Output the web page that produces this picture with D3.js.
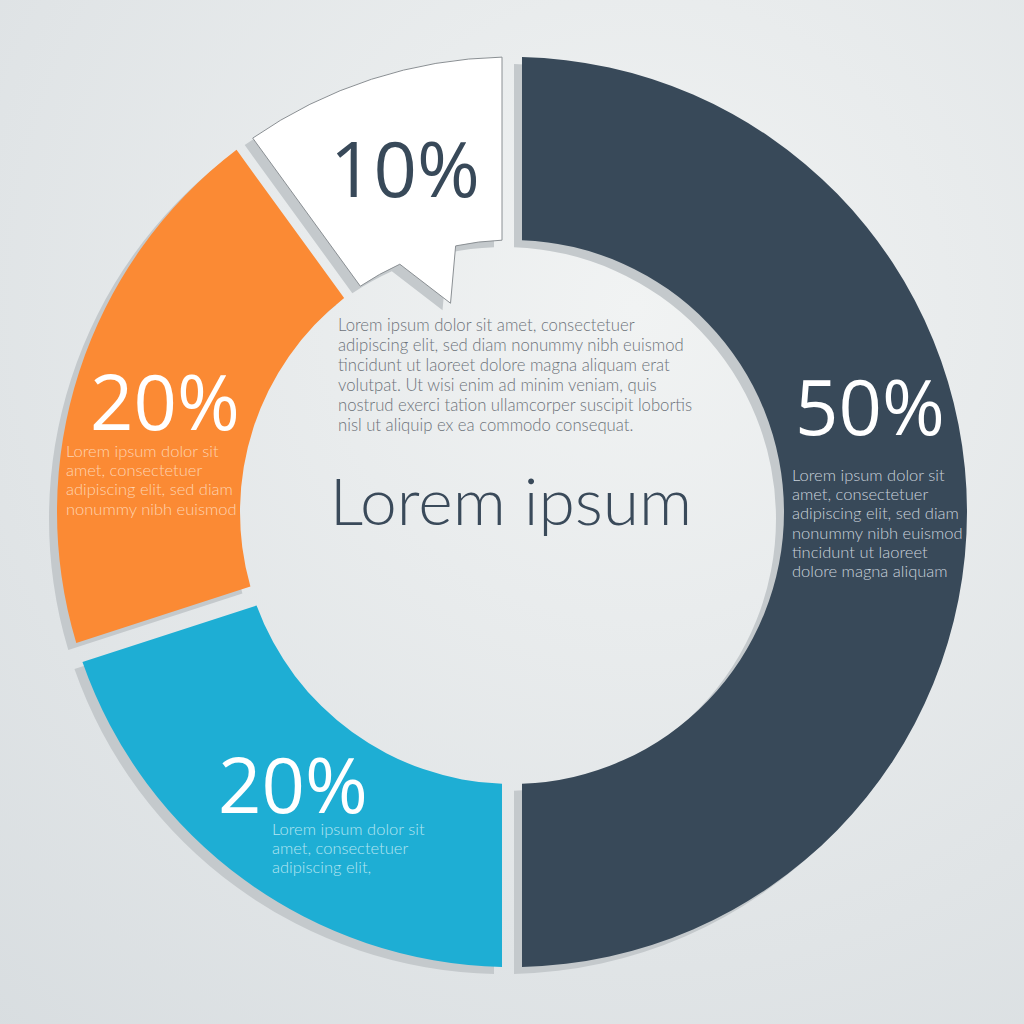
<!DOCTYPE html>
<html>
<head>
<meta charset="utf-8">
<script src="https://cdn.jsdelivr.net/npm/d3@7"></script>
<style>
  html, body { margin: 0; padding: 0; background: #e4e8e9; }
  svg { display: block; }
</style>
</head>
<body>
<script>
// ---- data ----
const categories = ["dark", "blue", "orange", "white"];
const values = [50, 20, 20, 10];
const percentLabels = ["50%", "20%", "20%", "10%"];
const colors = ["#384959", "#1eaed4", "#fb8a34", "#ffffff"];
const labelColors = ["#ffffff", "#ffffff", "#ffffff", "#384959"];
const bodyColors = ["#c9d2db", "#b4e5f2", "#fed3b0", "#6a7078"];
const bodyTexts = [
  ["Lorem ipsum dolor sit", "amet, consectetuer", "adipiscing elit, sed diam", "nonummy nibh euismod", "tincidunt ut laoreet", "dolore magna aliquam"],
  ["Lorem ipsum dolor sit", "amet, consectetuer", "adipiscing elit,"],
  ["Lorem ipsum dolor sit", "amet, consectetuer", "adipiscing elit, sed diam", "nonummy nibh euismod"],
  []
];
const centerParagraph = [
  "Lorem ipsum dolor sit amet, consectetuer",
  "adipiscing elit, sed diam nonummy nibh euismod",
  "tincidunt ut laoreet dolore magna aliquam erat",
  "volutpat. Ut wisi enim ad minim veniam, quis",
  "nostrud exerci tation ullamcorper suscipit lobortis",
  "nisl ut aliquip ex ea commodo consequat."
];
const centerTitle = "Lorem ipsum";

// ---- layout ----
const W = 1024, H = 1024;
const cx = 512, cy = 512;
const rOuter = 455, rInner = 272;
const gap = 20;

const svg = d3.select("body").append("svg").attr("width", W).attr("height", H);
const defs = svg.append("defs");
const bg = defs.append("radialGradient").attr("id", "bg")
  .attr("cx", "0.62").attr("cy", "0.3").attr("r", "0.95");
bg.append("stop").attr("offset", "0").attr("stop-color", "#f1f3f3");
bg.append("stop").attr("offset", "1").attr("stop-color", "#d8dde0");
svg.append("rect").attr("width", W).attr("height", H).attr("fill", "url(#bg)");

const g = svg.append("g").attr("transform", `translate(${cx},${cy})`);

const pie = d3.pie().sort(null).value(d => d).startAngle(0).endAngle(2 * Math.PI);
const arcs = pie(values);
const padAngle = gap / rOuter;
const arc = d3.arc().innerRadius(rInner).outerRadius(rOuter)
  .padAngle(padAngle).padRadius(rOuter);

// speech-bubble shape for the small slice
function bubblePath(a) {
  const half = gap / 2;
  const p = d3.path();
  const ang = t => t - Math.PI / 2; // d3 angle -> canvas angle
  const po = Math.asin(half / rOuter), pi = Math.asin(half / rInner);
  const a0o = a.startAngle + po, a1o = a.endAngle - po;
  const a0i = a.startAngle + pi, a1i = a.endAngle - pi;
  const span = a1i - a0i;
  const n0 = a0i + span * 0.30, nt = a0i + span * 0.55, n1 = a0i + span * 0.69;
  const rt = rInner * 0.80;
  const pt = (r, t) => [r * Math.cos(ang(t)), r * Math.sin(ang(t))];
  let q = pt(rOuter, a0o); p.moveTo(q[0], q[1]);
  p.arc(0, 0, rOuter, ang(a0o), ang(a1o), false);
  q = pt(rInner, a1i); p.lineTo(q[0], q[1]);
  p.arc(0, 0, rInner, ang(a1i), ang(n1), true);
  q = pt(rt, nt); p.lineTo(q[0], q[1]);
  q = pt(rInner, n0); p.lineTo(q[0], q[1]);
  p.arc(0, 0, rInner, ang(n0), ang(a0i), true);
  p.closePath();
  return p.toString();
}
const shapeOf = (d, i) => (i === 3 ? bubblePath(d) : arc(d));

// shadows
g.selectAll("path.shadow").data(arcs).join("path")
  .attr("class", "shadow")
  .attr("transform", "translate(-8,7)")
  .attr("d", shapeOf)
  .attr("fill", "#c4c9cc");

// slices
g.selectAll("path.slice").data(arcs).join("path")
  .attr("class", "slice")
  .attr("d", shapeOf)
  .attr("fill", (d, i) => colors[i])
  .attr("stroke", (d, i) => (i === 3 ? "#8a8f93" : "none"))
  .attr("stroke-width", 1);

// label anchors (relative to center)
const labelPos = [[283, -77], [-294, 301], [-422, -82], [-182, -315]];
const bodyPos = [[280, -31], [-240, 323], [-446, -55], [0, 0]];

g.selectAll("text.pct").data(arcs).join("text")
  .attr("class", "pct")
  .attr("x", (d, i) => labelPos[i][0])
  .attr("y", (d, i) => labelPos[i][1])
  .attr("font-family", "'Open Sans', sans-serif")
  .attr("font-size", 76)
  .attr("fill", (d, i) => labelColors[i])
  .text((d, i) => percentLabels[i]);

arcs.forEach((d, i) => {
  const t = g.append("text")
    .attr("x", bodyPos[i][0]).attr("y", bodyPos[i][1])
    .attr("font-family", "Lato, sans-serif")
    .attr("font-weight", 300)
    .attr("font-size", 16.5)
    .attr("fill", bodyColors[i]);
  bodyTexts[i].forEach((line, k) => {
    t.append("tspan").attr("x", bodyPos[i][0]).attr("dy", k === 0 ? 0 : 19.2).text(line);
  });
});

// center paragraph
const cp = g.append("text")
  .attr("x", -174).attr("y", -181)
  .attr("font-family", "Lato, sans-serif")
  .attr("font-weight", 300)
  .attr("font-size", 16.7)
  .attr("fill", "#6d737a");
centerParagraph.forEach((line, k) => {
  cp.append("tspan").attr("x", -174).attr("dy", k === 0 ? 0 : 20).text(line);
});

// center title
g.append("text")
  .attr("x", -1).attr("y", 13)
  .attr("text-anchor", "middle")
  .attr("font-family", "Lato, sans-serif")
  .attr("font-weight", 300)
  .attr("font-size", 66)
  .attr("fill", "#3a4a5a")
  .text(centerTitle);
</script>
</body>
</html>
